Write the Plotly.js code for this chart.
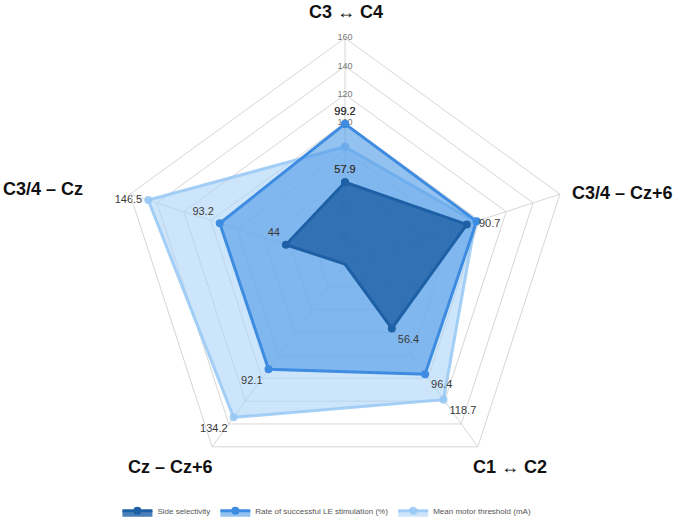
<!DOCTYPE html>
<html>
<head>
<meta charset="utf-8">
<script src="https://cdn.plot.ly/plotly-3.0.1.min.js"></script>
<style>html,body{margin:0;padding:0;background:#fff;}#chart{width:679px;height:529px;}</style>
</head>
<body>
<div id="chart"></div>
<script>
const categories = ['C3 ↔ C4', 'C3/4 – Cz+6', 'C1 ↔ C2', 'Cz – Cz+6', 'C3/4 – Cz'];
const sideSelectivity = [57.9, 90.7, 56.4, 0, 44];
const rateLE = [99.2, 98, 96.4, 92.1, 93.2];
const motorThreshold = [83, 97, 118.7, 134.2, 146.5];
const sideLabels = ['57.9', '  90.7', '56.4', '', '44'];
const rateLabels = ['99.2', '', '96.4', '92.1', '93.2'];
const mmtLabels = ['', '', '118.7', '134.2', '146.5'];
const radialTickLabels = [20, 40, 100, 120, 140, 160];
const seriesNames = ['Side selectivity', 'Rate of successful LE stimulation (%)', 'Mean motor threshold (mA)'];

const close = a => a.concat([a[0]]);
const theta = close(categories);

function series(name, values, labels, fill, line, positions) {
  return {
    type: 'scatterpolar', name: name,
    r: close(values), theta: theta,
    text: close(labels),
    mode: 'lines+markers+text',
    textposition: close(positions),
    textfont: {family: 'Liberation Sans, Arial, sans-serif', size: 11, color: '#3a3a3a'},
    fill: 'toself', fillcolor: fill,
    line: {color: line, width: 3},
    marker: {color: line, size: 8},
    hoverinfo: 'skip'
  };
}

const traces = [
  {
    type: 'scatterpolar', r: radialTickLabels, theta: radialTickLabels.map(() => categories[0]),
    text: radialTickLabels.map(String), mode: 'text', showlegend: false,
    textfont: {family: 'Liberation Sans, Arial, sans-serif', size: 9, color: '#777'},
    hoverinfo: 'skip'
  },
  series(seriesNames[2], motorThreshold, mmtLabels, 'rgba(172,212,246,0.6)', 'rgba(150,200,245,0.85)',
    ['top center', 'middle right', 'bottom right', 'bottom left', 'middle left']),
  series(seriesNames[1], rateLE, rateLabels, 'rgba(80,155,230,0.62)', 'rgb(62,140,225)',
    ['top center', 'middle right', 'bottom right', 'bottom left', 'top left']),
  series(seriesNames[0], sideSelectivity, sideLabels, 'rgba(30,95,165,0.8)', 'rgb(30,96,166)',
    ['top center', 'middle right', 'bottom right', 'bottom left', 'top left'])
];

const grid = '#d6d6d6';
const catFont = {family: 'Liberation Sans, Arial, sans-serif', size: 18, color: '#111'};
function cat(i, x, y) {
  return {text: '<b>' + categories[i] + '</b>', x: x, y: y, xref: 'paper', yref: 'paper',
    showarrow: false, font: catFont, xanchor: 'center', yanchor: 'middle'};
}

const layout = {
  width: 679, height: 529,
  margin: {l: 119, r: 108, t: 38, b: 39, autoexpand: false},
  paper_bgcolor: '#fff', plot_bgcolor: '#fff',
  showlegend: true,
  legend: {orientation: 'h', x: 0.46, xanchor: 'center', y: -0.046, yanchor: 'middle',
    font: {family: 'Liberation Sans, Arial, sans-serif', size: 8, color: '#555'},
    itemwidth: 30, traceorder: 'reversed'},
  polar: {
    domain: {x: [0, 1], y: [0, 1]},
    gridshape: 'linear',
    bgcolor: 'rgba(0,0,0,0)',
    radialaxis: {range: [0, 160], dtick: 20, showticklabels: false, showline: false,
      ticks: '', gridcolor: grid, gridwidth: 1, angle: 90},
    angularaxis: {rotation: 90, direction: 'clockwise', showticklabels: false, ticks: '',
      gridcolor: grid, linecolor: grid, linewidth: 1}
  },
  annotations: [
    cat(0, 0.502, 1.058),
    cat(1, 1.113, 0.657),
    cat(2, 0.865, 0.051),
    cat(3, 0.113, 0.051),
    cat(4, -0.168, 0.666)
  ]
};

Plotly.newPlot('chart', traces, layout, {displayModeBar: false, staticPlot: true});
</script>
</body>
</html>
